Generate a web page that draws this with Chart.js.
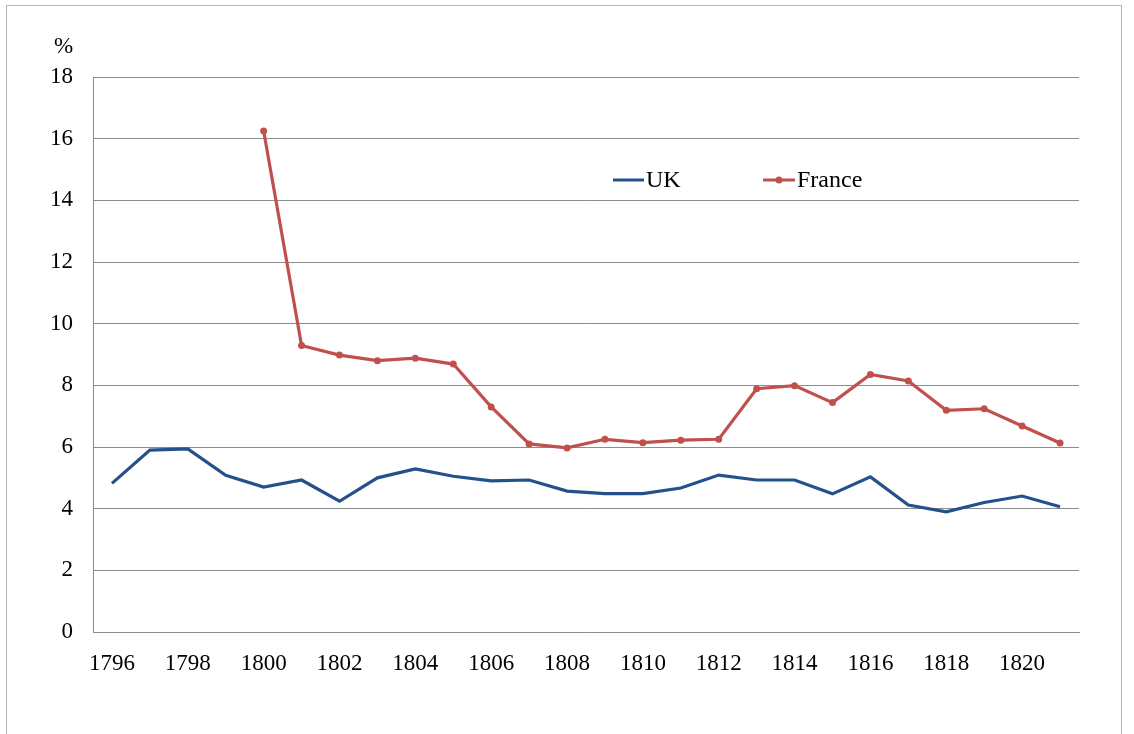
<!DOCTYPE html>
<html>
<head>
<meta charset="utf-8">
<script src="https://cdn.jsdelivr.net/npm/chart.js@4/dist/chart.umd.min.js"></script>
<style>
  html, body { margin: 0; padding: 0; background: #fff; overflow: hidden; }
  #wrap { position: relative; width: 1134px; height: 734px; }
  #frame { position: absolute; left: 6px; top: 5px; width: 1116px; height: 760px; border: 1px solid #b4b4b4; box-sizing: border-box; }
  canvas { position: absolute; left: 0; top: 0; }
</style>
</head>
<body>
<div id="wrap">
  <div id="frame"></div>
  <canvas id="grafik" width="1134" height="734"></canvas>
</div>
<script>
// Data
var tahunLabels = ['1796','1797','1798','1799','1800','1801','1802','1803','1804','1805','1806','1807','1808',
                   '1809','1810','1811','1812','1813','1814','1815','1816','1817','1818','1819','1820','1821'];
var ukData = [4.82, 5.9, 5.94, 5.08, 4.7, 4.93, 4.24, 5.0, 5.29, 5.05, 4.9, 4.93, 4.57,
              4.49, 4.49, 4.67, 5.09, 4.93, 4.93, 4.48, 5.03, 4.12, 3.9, 4.2, 4.41, 4.06];
var franceData = [null, null, null, null, 16.25, 9.29, 8.98, 8.8, 8.88, 8.69, 7.3, 6.1, 5.97,
                  6.25, 6.14, 6.22, 6.25, 7.89, 7.99, 7.44, 8.35, 8.14, 7.19, 7.24, 6.68, 6.13];
var yTicks = [0, 2, 4, 6, 8, 10, 12, 14, 16, 18];

var warnaUK = '#24508c';
var warnaFrance = '#c0504d';
var hurufSerif = '"Liberation Serif", "Times New Roman", serif';

// Legenda dan label % digambar manual
var legendaPlugin = {
    id: 'legendaManual',
    afterDraw: function (chart) {
        var ctx = chart.ctx;
        ctx.save();
        ctx.font = '23px ' + hurufSerif;
        ctx.fillStyle = '#000';
        ctx.textBaseline = 'middle';
        ctx.textAlign = 'left';
        // label satuan
        ctx.fillText('%', 54, 47);
        ctx.font = '24px ' + hurufSerif;
        // UK
        ctx.strokeStyle = warnaUK;
        ctx.lineWidth = 3;
        ctx.beginPath();
        ctx.moveTo(613, 180);
        ctx.lineTo(644, 180);
        ctx.stroke();
        ctx.fillText('UK', 646, 181);
        // France
        ctx.strokeStyle = warnaFrance;
        ctx.beginPath();
        ctx.moveTo(763, 180);
        ctx.lineTo(795, 180);
        ctx.stroke();
        ctx.fillStyle = warnaFrance;
        ctx.beginPath();
        ctx.arc(779, 180, 3.5, 0, Math.PI * 2);
        ctx.fill();
        ctx.fillStyle = '#000';
        ctx.fillText('France', 797, 181);
        ctx.restore();
    }
};

var grafik = new Chart(document.getElementById('grafik'), {
    type: 'line',
    data: {
        labels: tahunLabels,
        datasets: [{
            label: 'UK',
            data: ukData,
            borderColor: warnaUK,
            backgroundColor: warnaUK,
            borderWidth: 3.2,
            pointRadius: 0,
            tension: 0
        }, {
            label: 'France',
            data: franceData,
            borderColor: warnaFrance,
            backgroundColor: warnaFrance,
            borderWidth: 3.2,
            pointRadius: 3.5,
            pointBorderWidth: 0,
            tension: 0
        }]
    },
    options: {
        responsive: false,
        animation: false,
        layout: {
            padding: { left: 0, top: 77, right: 55, bottom: 0 }
        },
        plugins: {
            legend: { display: false },
            tooltip: { enabled: false }
        },
        scales: {
            x: {
                offset: true,
                grid: { display: false, drawTicks: false },
                border: { display: true, color: '#8c8c8c', width: 1 },
                ticks: {
                    autoSkip: false,
                    maxRotation: 0,
                    padding: 18,
                    color: '#000',
                    font: { family: hurufSerif, size: 23 },
                    callback: function (val, i) {
                        return i % 2 === 0 ? tahunLabels[i] : '';
                    }
                },
                afterFit: function (scale) { scale.height = 102; }
            },
            y: {
                min: 0,
                max: 18,
                afterBuildTicks: function (scale) {
                    scale.ticks = yTicks.map(function (v) { return { value: v }; });
                },
                grid: { color: '#8c8c8c', lineWidth: 1, drawTicks: false },
                border: { display: true, color: '#8c8c8c', width: 1 },
                ticks: {
                    padding: 20,
                    color: '#000',
                    font: { family: hurufSerif, size: 23 }
                },
                afterFit: function (scale) { scale.width = 93; }
            }
        }
    },
    plugins: [legendaPlugin]
});
</script>
</body>
</html>
